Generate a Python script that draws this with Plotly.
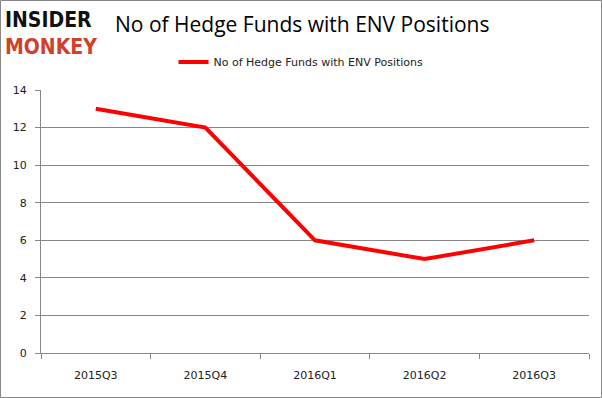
import plotly.graph_objects as go

quarters = ["2015Q3", "2015Q4", "2016Q1", "2016Q2", "2016Q3"]
hedge_funds = [13, 12, 6, 5, 6]
series_name = "No of Hedge Funds with ENV Positions"
y_ticks = [0, 2, 4, 6, 8, 10, 12, 14]

W, H = 602, 398
ml, mr, mt, mb = 41, 13, 90, 45
PW, PH = W - ml - mr, H - mt - mb

fig = go.Figure()
fig.add_trace(go.Scatter(
    x=quarters, y=hedge_funds, mode="lines", name=series_name,
    line=dict(color="#ff0000", width=4),
))

fig.update_layout(
    width=W, height=H,
    margin=dict(l=ml, r=mr, t=mt, b=mb, autoexpand=False),
    paper_bgcolor="white", plot_bgcolor="white",
    showlegend=True,
    legend=dict(orientation="h", xref="container", x=0.5, xanchor="center",
                y=1 - 62 / H, yanchor="middle", yref="container",
                font=dict(family="DejaVu Sans", size=11, color="#222222"),
                bgcolor="rgba(0,0,0,0)", itemwidth=30),
    font=dict(family="DejaVu Sans", size=11, color="#222222"),
)

fig.update_xaxes(
    type="category", range=[-0.5, 4.5], tickson="boundaries",
    showline=True, linecolor="#888888", linewidth=1,
    ticks="outside", ticklen=5, tickcolor="#888888",
    showgrid=False, tickfont=dict(size=11, color="#222222"),
    ticklabelstandoff=12,
)
fig.update_yaxes(
    range=[0, 14], tickvals=y_ticks,
    showline=True, linecolor="#888888", linewidth=1,
    ticks="outside", ticklen=5, tickcolor="#888888",
    showgrid=True, gridcolor="#888888", gridwidth=1,
    zeroline=False, tickfont=dict(size=11, color="#222222"),
    ticklabelstandoff=6,
)

# Outer frame
fig.add_shape(type="rect", xref="paper", yref="paper",
              xsizemode="pixel", ysizemode="pixel", xanchor=0, yanchor=0,
              x0=-ml + 0.5, x1=W - ml - 0.5, y0=-mb + 0.5, y1=H - mb - 0.5,
              line=dict(color="#888888", width=1), fillcolor="rgba(0,0,0,0)")

# Title
fig.add_annotation(text=series_name, xref="paper", yref="paper",
                   x=(302 - ml) / PW, y=1 + (90 - 24) / PH,
                   xanchor="center", yanchor="middle", showarrow=False,
                   font=dict(family="Open Sans", size=21, color="#000000"))
# Logo
logo_font = "DejaVu Sans Condensed"
fig.add_annotation(text="<b>INSIDER</b>", xref="paper", yref="paper",
                   x=(3 - ml) / PW, y=1 + (90 - 20) / PH,
                   xanchor="left", yanchor="middle", showarrow=False,
                   font=dict(family=logo_font, size=21, color="#111111"))
fig.add_annotation(text="<b>MONKEY</b>", xref="paper", yref="paper",
                   x=(3 - ml) / PW, y=1 + (90 - 47) / PH,
                   xanchor="left", yanchor="middle", showarrow=False,
                   font=dict(family=logo_font, size=21, color="#d0402a"))

fig.write_html("out.html", config={"displayModeBar": False},
               post_script="document.body.style.margin='0';document.body.style.overflow='hidden';")
